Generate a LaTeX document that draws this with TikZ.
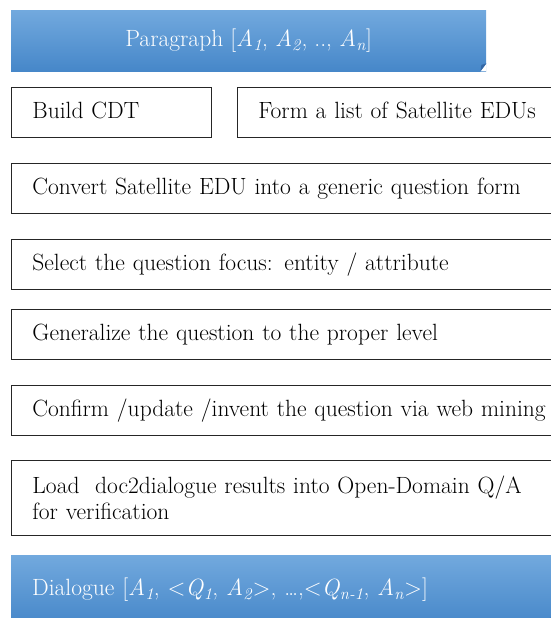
\documentclass[tikz,border=0pt]{standalone}
\usepackage{fontspec}
\usetikzlibrary{positioning}
\definecolor{bannertop}{RGB}{114,169,222}
\definecolor{bannerbot}{RGB}{70,135,201}
\definecolor{folddark}{RGB}{52,104,166}
\newcommand{\idx}[2]{\textit{#1}\textsubscript{\textit{#2}}}

\begin{document}
\begin{tikzpicture}[x=1pt, y=1pt, font=\fontsize{23.5pt}{26pt}\selectfont,
			task/.style={draw=black!85, line width=0.9pt, rectangle, minimum height=50pt, inner xsep=21pt, text height=16.5pt, text depth=5pt, align=left},
			banner/.style={rectangle, top color=bannertop, bottom color=bannerbot, text=white, inner sep=0pt}]
			
			\clip (0,0) rectangle (551,-618);
			
			% Input paragraph
			\node[banner, anchor=north west, minimum width=475pt, minimum height=61pt] (para) at (11,-10) {Paragraph [\idx{A}{1}, \idx{A}{2}, .., \idx{A}{n}]};
			\fill[white] (para.south east) -- ++(-6,0) -- ++(6,8) -- cycle;
			\fill[folddark] ([xshift=-6pt]para.south east) -- ++(6,8) -- ++(-5,-1.5) -- cycle;
			
			% Drawing the steps
			\node[task, text width=158pt, below=16pt of para.south west, anchor=north west] (cdt) {Build CDT};
			\node[task, text width=300pt, right=25pt of cdt.north east, anchor=north west] (edus) {Form a list of Satellite EDUs};
			\node[task, text width=518pt, below=25pt of cdt.south west, anchor=north west] (convert) {Convert Satellite EDU into a generic question form};
			\node[task, text width=518pt, below=25pt of convert.south west, anchor=north west] (focus) {Select the question focus: entity / attribute};
			\node[task, text width=518pt, below=19pt of focus.south west, anchor=north west] (level) {Generalize the question to the proper level};
			\node[task, text width=518pt, below=25pt of level.south west, anchor=north west] (mining) {Confirm /update /invent the question via web mining};
			\node[task, minimum height=75pt, text height={}, text depth={}, text width=518pt, below=24pt of mining.south west, anchor=north west] (load) {Load\ \ doc2dialogue results into Open-Domain Q/A\\for verification};
			
			% Output dialogue
			\node[banner, minimum width=541pt, minimum height=70pt, inner xsep=21pt, text width=499pt, align=left, below=19pt of load.south west, anchor=north west] (dialogue) {Dialogue [\idx{A}{1}, <\idx{Q}{1}, \idx{A}{2}>, \dots,<\idx{Q}{n-1}, \idx{A}{n}>]};
			\fill[white] (dialogue.south east) -- ++(-6,0) -- ++(6,8) -- cycle;
			\fill[folddark] ([xshift=-6pt]dialogue.south east) -- ++(6,8) -- ++(-5,-1.5) -- cycle;
		\end{tikzpicture}
\end{document}
